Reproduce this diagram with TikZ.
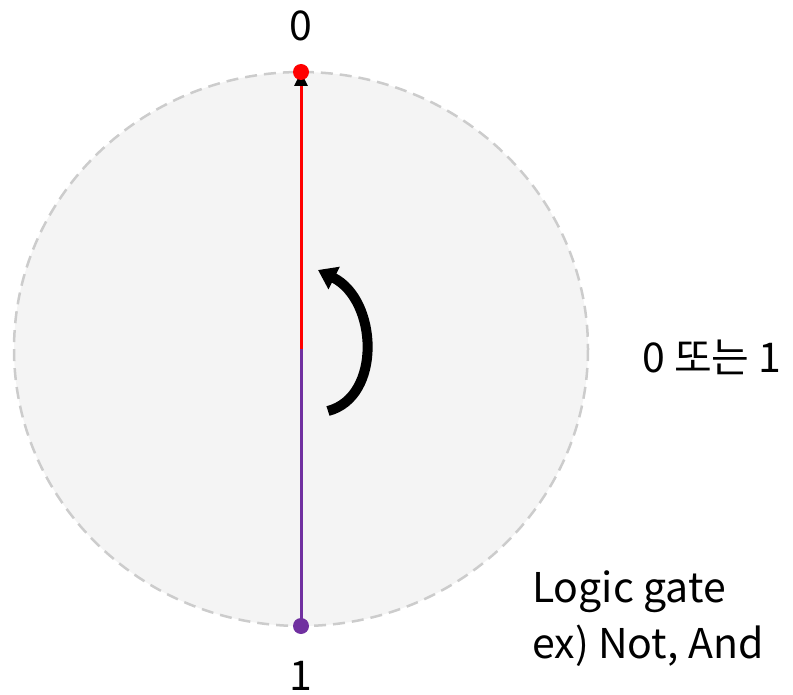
\documentclass[tikz,border=0pt]{standalone}
\usepackage{fontspec}
\setmainfont{Noto Sans CJK KR}
\usepackage{xcolor}
\usetikzlibrary{arrows.meta,positioning}

\definecolor{qred}{HTML}{FF0000}
\definecolor{qpurple}{HTML}{7030A0}
\definecolor{qfill}{HTML}{F4F4F4}
\definecolor{qedge}{HTML}{CCCCCC}

\begin{document}
\begin{tikzpicture}[
  x=1pt, y=-1pt,
  dot/.style={circle, inner sep=0pt, minimum size=16pt},
  lbl/.style={font=\fontsize{41}{56}\selectfont, inner sep=0pt},
  stem/.style={line width=3pt},
  sphere/.style={fill=qfill, draw=qedge, line width=2.5pt, dash pattern=on 12pt off 7pt}
]
\useasboundingbox (0,0) rectangle (793,695);
\draw[sphere] (301,349) ellipse [x radius=287, y radius=277];
\coordinate (mid) at (301,349);
\coordinate (top) at (301,72);
\coordinate (bot) at (301,626);
\draw[stem, qred, -{Triangle[length=14pt, width=13pt, black]}] (mid) -- (top);
\draw[stem, qpurple] (mid) -- (bot);
\node[dot, fill=qred] (zero) at (top) {};
\node[dot, fill=qpurple] (one) at (bot) {};
\node[lbl, above=23pt of zero] (zerolbl) {0};
\node[lbl, below=27pt of one] (onelbl) {1};
% flip arrow
\coordinate (fa) at (328,411);
\coordinate (fb) at (318,270);
\draw[line width=10pt, -{Triangle[length=18pt, width=24pt]}] (fa) .. controls (382,397) and (378,300) .. (fb);
% right side texts
\node[lbl, anchor=west] (state) at (642,357) {0 또는 1};
\node[lbl, anchor=north west, align=left] (gate) at (532,571) {Logic gate\\ex) Not, And};
\end{tikzpicture}
\end{document}
